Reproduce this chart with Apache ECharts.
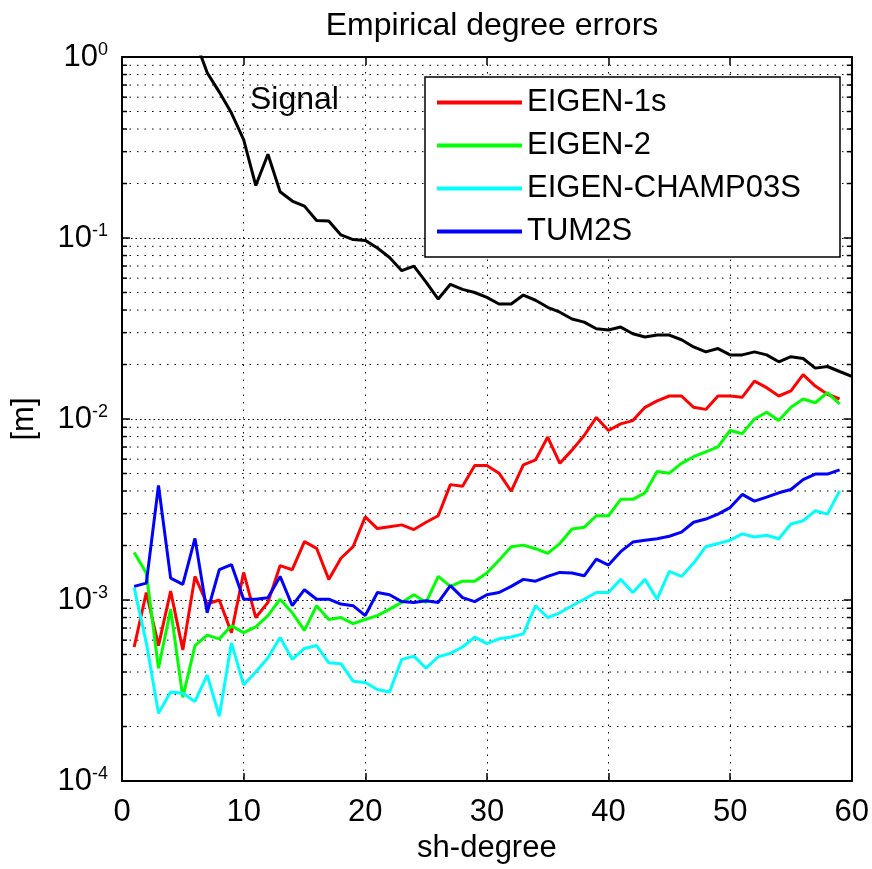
<!DOCTYPE html>
<html><head><meta charset="utf-8">
<script src="https://cdn.jsdelivr.net/npm/echarts@6/dist/echarts.min.js"></script>
<style>html,body{margin:0;padding:0;background:#fff}#c{width:872px;height:869px}</style>
</head><body><div id="c"></div>
<script>
const FONT = "'Liberation Sans', Arial, Helvetica, sans-serif";
const degrees = [1,2,3,4,5,6,7,8,9,10,11,12,13,14,15,16,17,18,19,20,21,22,23,24,25,26,27,28,29,30,31,32,33,34,35,36,37,38,39,40,41,42,43,44,45,46,47,48,49,50,51,52,53,54,55,56,57,58,59];
const signalDegrees = [2,3,4,5,6,7,8,9,10,11,12,13,14,15,16,17,18,19,20,21,22,23,24,25,26,27,28,29,30,31,32,33,34,35,36,37,38,39,40,41,42,43,44,45,46,47,48,49,50,51,52,53,54,55,56,57,58,59,60];
const signal = [5,3.5,2.5,1.8,1.25,0.82,0.64,0.49,0.35,0.195,0.29,0.18,0.16,0.15,0.125,0.124,0.104,0.098,0.097,0.088,0.078,0.066,0.07,0.057,0.046,0.0555,0.052,0.05,0.047,0.0432,0.0432,0.0484,0.0453,0.0414,0.0389,0.0357,0.0343,0.0315,0.031,0.0322,0.0296,0.0284,0.0291,0.0291,0.0274,0.025,0.0235,0.0245,0.0226,0.0226,0.0235,0.0226,0.0207,0.0221,0.0216,0.0191,0.0195,0.0183,0.0172];
const eigen1s = [5.5e-4,1.1e-3,5.6e-4,1.12e-3,5.3e-4,1.35e-3,9.5e-4,1.0e-3,6.6e-4,1.42e-3,8.0e-4,9.7e-4,1.55e-3,1.47e-3,2.1e-3,1.93e-3,1.3e-3,1.7e-3,1.97e-3,2.88e-3,2.48e-3,2.54e-3,2.6e-3,2.45e-3,2.69e-3,2.92e-3,4.34e-3,4.25e-3,5.53e-3,5.53e-3,5.02e-3,3.99e-3,5.58e-3,5.94e-3,7.95e-3,5.69e-3,6.73e-3,8.11e-3,1.02e-2,8.64e-3,9.4e-3,9.8e-3,1.16e-2,1.26e-2,1.34e-2,1.34e-2,1.16e-2,1.13e-2,1.34e-2,1.34e-2,1.32e-2,1.62e-2,1.49e-2,1.34e-2,1.43e-2,1.76e-2,1.52e-2,1.37e-2,1.29e-2];
const eigen2 = [1.83e-3,1.41e-3,4.2e-4,8.9e-4,2.9e-4,5.6e-4,6.4e-4,6.1e-4,7.2e-4,6.6e-4,7.1e-4,8.2e-4,1.01e-3,8.5e-4,6.8e-4,9.3e-4,7.8e-4,8.0e-4,7.4e-4,7.8e-4,8.2e-4,8.9e-4,9.7e-4,1.07e-3,9.7e-4,1.35e-3,1.19e-3,1.27e-3,1.27e-3,1.41e-3,1.66e-3,1.97e-3,2.01e-3,1.92e-3,1.81e-3,2.05e-3,2.47e-3,2.52e-3,2.92e-3,2.92e-3,3.6e-3,3.6e-3,3.91e-3,5.13e-3,5.02e-3,5.69e-3,6.19e-3,6.59e-3,7.02e-3,8.64e-3,8.3e-3,1.0e-2,1.09e-2,9.8e-3,1.16e-2,1.29e-2,1.23e-2,1.4e-2,1.21e-2];
const eigenChamp03s = [1.17e-3,5.8e-4,2.37e-4,3.1e-4,3.05e-4,2.75e-4,3.85e-4,2.28e-4,5.8e-4,3.4e-4,4.0e-4,4.8e-4,6.2e-4,4.7e-4,5.4e-4,5.6e-4,4.5e-4,4.45e-4,3.56e-4,3.5e-4,3.2e-4,3.1e-4,4.7e-4,4.9e-4,4.2e-4,4.86e-4,5.07e-4,5.5e-4,6.24e-4,5.74e-4,6.1e-4,6.24e-4,6.5e-4,9.3e-4,8.0e-4,8.5e-4,9.3e-4,1.01e-3,1.1e-3,1.1e-3,1.3e-3,1.1e-3,1.3e-3,1.01e-3,1.44e-3,1.35e-3,1.6e-3,1.97e-3,2.05e-3,2.14e-3,2.32e-3,2.23e-3,2.28e-3,2.18e-3,2.63e-3,2.74e-3,3.11e-3,2.98e-3,4.0e-3];
const tum2s = [1.19e-3,1.24e-3,4.29e-3,1.32e-3,1.22e-3,2.19e-3,8.5e-4,1.47e-3,1.57e-3,1.01e-3,1.01e-3,1.03e-3,1.35e-3,9.3e-4,1.14e-3,1.01e-3,1.01e-3,9.5e-4,9.3e-4,8.2e-4,1.1e-3,1.07e-3,9.8e-4,9.7e-4,9.9e-4,9.7e-4,1.2e-3,1.03e-3,9.8e-4,1.07e-3,1.1e-3,1.19e-3,1.3e-3,1.27e-3,1.35e-3,1.42e-3,1.41e-3,1.36e-3,1.68e-3,1.56e-3,1.85e-3,2.09e-3,2.14e-3,2.18e-3,2.25e-3,2.37e-3,2.69e-3,2.8e-3,2.98e-3,3.24e-3,3.83e-3,3.52e-3,3.7e-3,3.91e-3,4.08e-3,4.62e-3,4.96e-3,4.96e-3,5.24e-3];
const seriesNames = ['EIGEN-1s','EIGEN-2','EIGEN-CHAMP03S','TUM2S'];
const seriesColors = ['#ff0000','#00ff00','#00ffff','#0000ff'];
const xTicks = [0,10,20,30,40,50,60];
const yDecades = [1e-4,1e-3,1e-2,1e-1,1];
const yTickExponents = {'0.0001':'-4','0.001':'-3','0.01':'-2','0.1':'-1','1':'0'};
const minorMantissas = [2,3,4,5,6,7,8,9];

const minorVals = [];
yDecades.slice(0,4).forEach(d => minorMantissas.forEach(m => minorVals.push([0, +(d*m).toPrecision(3)])));

function pair(xs, ys){ return xs.map((x,i)=>[x, ys[i]]); }

const chart = echarts.init(document.getElementById('c'), null, {renderer:'canvas'});
const lineBase = {type:'line', showSymbol:false, symbol:'none', clip:true, z:3, silent:true, animation:false, emphasis:{disabled:true}};
const colorSeries = [eigen1s, eigen2, eigenChamp03s, tum2s].map((arr,i)=>Object.assign({}, lineBase, {
  name: seriesNames[i], data: pair(degrees, arr), color: seriesColors[i],
  lineStyle:{color: seriesColors[i], width:3}
}));

const yLabel = {
  show:true, margin:14, fontFamily:FONT,
  formatter: v => '{b|10}{s|' + (yTickExponents[String(v)] ?? Math.round(Math.log10(v))) + '}',
  rich:{ b:{fontSize:31, fontFamily:FONT, color:'#000', lineHeight:31}, s:{fontSize:18, fontFamily:FONT, color:'#000', verticalAlign:'top', lineHeight:18} }
};

chart.setOption({
  animation:false,
  backgroundColor:'#fff',
  title:{ text:'Empirical degree errors', left:487, top:5, textAlign:'center',
    textStyle:{fontFamily:FONT, fontSize:32, fontWeight:'normal', color:'#000'} },
  grid:{ left:122, right:20, top:57, bottom:80, containLabel:false },
  legend:{ data:seriesNames, orient:'vertical', left:425, top:77, icon:'rect', itemWidth:85, itemHeight:4,
    itemGap:12, itemTextGap:8, padding:[10,13,10,12], selectedMode:false,
    backgroundColor:'#fff', borderColor:'#000', borderWidth:1.5, z:10,
    textStyle:{fontFamily:FONT, fontSize:31, color:'#000', width:300, lineHeight:30} },
  graphic:[{ type:'text', left:250, top:84, z:10, style:{ text:'Signal', font:'32px ' + FONT, fill:'#000' } }],
  xAxis:[
    { type:'value', min:0, max:60, interval:10, position:'bottom',
      name:'sh-degree', nameLocation:'middle', nameGap:52,
      nameTextStyle:{fontFamily:FONT, fontSize:31, color:'#000'},
      axisLine:{show:true, onZero:false, lineStyle:{color:'#000', width:2}},
      axisTick:{show:true, inside:true, length:8, lineStyle:{color:'#000', width:1.5}},
      axisLabel:{show:true, margin:16, fontFamily:FONT, fontSize:31, color:'#000', formatter: v => xTicks.includes(v) ? String(v) : ''},
      splitLine:{show:true, lineStyle:{color:'#000', width:1, type:[1.5,6]}} },
    { type:'value', min:0, max:60, interval:10, position:'top',
      axisLine:{show:true, onZero:false, lineStyle:{color:'#000', width:2}},
      axisTick:{show:true, inside:true, length:8, lineStyle:{color:'#000', width:1.5}},
      axisLabel:{show:false}, splitLine:{show:false} }
  ],
  yAxis:[
    { type:'log', logBase:10, min:1e-4, max:1, position:'left',
      name:'[m]', nameLocation:'middle', nameGap:82, nameRotate:90,
      nameTextStyle:{fontFamily:FONT, fontSize:31, color:'#000'},
      axisLine:{show:true, onZero:false, lineStyle:{color:'#000', width:2}},
      axisTick:{show:true, inside:true, length:8, lineStyle:{color:'#000', width:1.5}},
      axisLabel: yLabel,
      splitLine:{show:true, lineStyle:{color:'#000', width:1, type:[1.5,3]}} },
    { type:'log', logBase:10, min:1e-4, max:1, position:'right',
      axisLine:{show:true, onZero:false, lineStyle:{color:'#000', width:2}},
      axisTick:{show:true, inside:true, length:8, lineStyle:{color:'#000', width:1.5}},
      axisLabel:{show:false}, splitLine:{show:false} }
  ],
  series:[
    { type:'custom', name:'minorgrid', silent:true, z:1, data:minorVals, encode:{x:0, y:1},
      renderItem:(params, api) => {
        const cs = params.coordSys;
        const y = api.coord([0, api.value(1)])[1];
        return { type:'group', children:[
          {type:'line', shape:{x1:cs.x, y1:y, x2:cs.x+cs.width, y2:y}, style:{stroke:'#000', lineWidth:1, lineDash:[1.5,6]}},
          {type:'line', shape:{x1:cs.x, y1:y, x2:cs.x+5, y2:y}, style:{stroke:'#000', lineWidth:1.5}},
          {type:'line', shape:{x1:cs.x+cs.width-5, y1:y, x2:cs.x+cs.width, y2:y}, style:{stroke:'#000', lineWidth:1.5}}
        ]};
      } },
    Object.assign({}, lineBase, { name:'Signal', data: pair(signalDegrees, signal), color:'#000', lineStyle:{color:'#000', width:3} }),
    ...colorSeries
  ]
});
</script></body></html>
